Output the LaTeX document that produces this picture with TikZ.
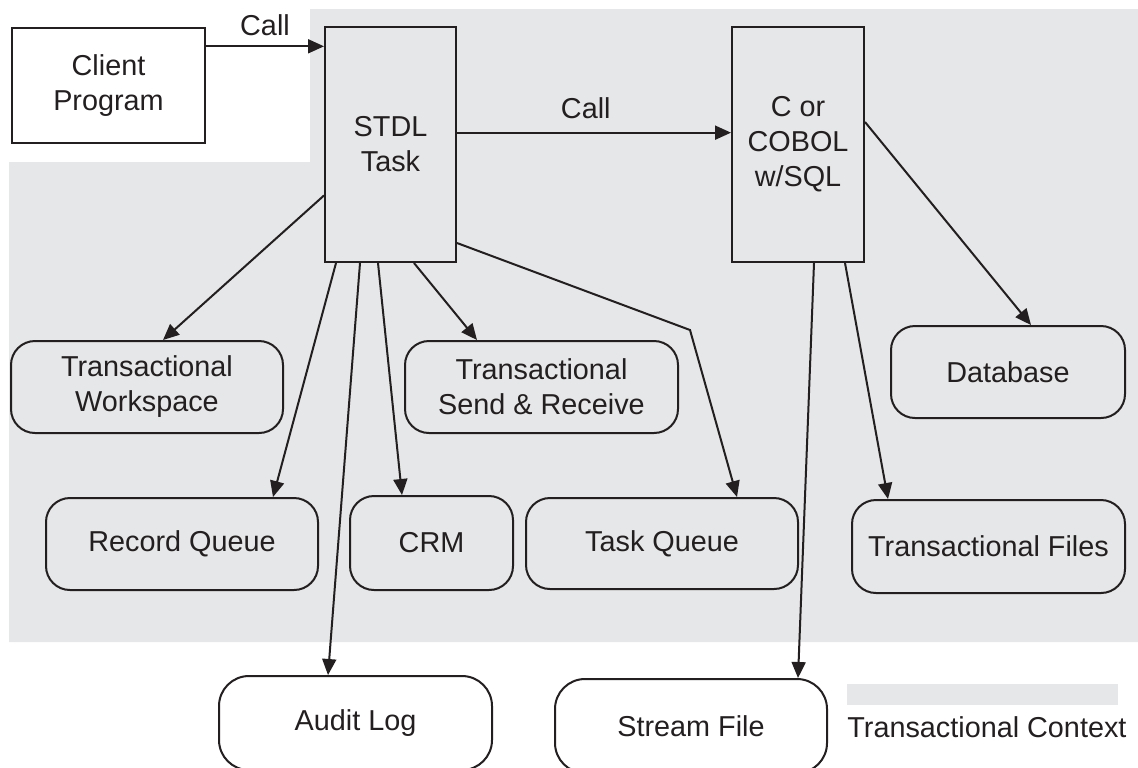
\documentclass[tikz,border=0pt]{standalone}
\usepackage{fontspec}
\setmainfont{Liberation Sans}
\usetikzlibrary{arrows.meta,calc}
\definecolor{ctxgray}{RGB}{230,231,232}
\definecolor{ink}{RGB}{35,31,32}

\begin{document}
\begin{tikzpicture}[x=0.5pt, y=-0.5pt,
        font=\fontsize{14.4}{17.5}\selectfont, text=ink,
        prog/.style={draw=ink, line width=1pt, align=center, inner sep=0pt},
        store/.style={draw=ink, line width=1pt, rounded corners=12pt, align=center, inner sep=0pt},
        arr/.style={draw=ink, line width=1pt, -{Triangle[length=8pt,width=7pt]}}]
        \clip (0,0) rectangle (1138,767);

        % transactional context
        \fill[ctxgray] (9,162) -- (310,162) -- (310,9) -- (1138,9) -- (1138,642) -- (9,642) -- cycle;

        \node[prog, minimum width=96.5pt, minimum height=57.5pt] (client) at (108.5,85.5) {Client\\Program};
        \node[prog, minimum width=65.5pt, minimum height=117.5pt] (stdl) at (390.5,144.5) {STDL\\Task};
        \node[prog, minimum width=66pt, minimum height=117.5pt] (cobol) at (798,144.5) {C or\\COBOL\\w/SQL};

        \node[store, minimum width=136pt, minimum height=46pt] (work) at (147,387) {Transactional\\Workspace};
        \node[store, minimum width=136.5pt, minimum height=46pt] (sendrecv) at (541.5,387) {Transactional\\Send \& Receive};
        \node[store, minimum width=117pt, minimum height=46pt] (db) at (1008,372) {Database};
        \node[store, minimum width=136pt, minimum height=46pt] (recq) at (182,544) {Record Queue};
        \node[store, minimum width=81.5pt, minimum height=47pt] (crm) at (431.5,543) {CRM};
        \node[store, minimum width=136pt, minimum height=45.5pt] (taskq) at (662,543.5) {Task Queue};
        \node[store, minimum width=136.5pt, minimum height=46.5pt] (tfiles) at (988.5,546.5) {Transactional Files};
        \node[store, rounded corners=15pt, minimum width=136.5pt, minimum height=47pt] (audit) at (355.5,723) {Audit Log};
        \node[store, rounded corners=15pt, minimum width=136pt, minimum height=47pt] (stream) at (691,726) {Stream File};

        % legend
        \node[fill=ctxgray, inner sep=0pt, minimum width=135.5pt, minimum height=10.5pt] (legbar) at (982.5,694.5) {};
        \node[anchor=base west, inner sep=0pt] (legtext) at (847,737) {Transactional Context};

        % calls
        \draw[arr] ($(client.north east)!0.165!(client.south east)$) coordinate (c1)
            -- node[above=1.5pt] {Call} (c1 -| stdl.west);
        \draw[arr] ($(stdl.north east)!0.45!(stdl.south east)$) coordinate (c2)
            -- node[above=3pt, pos=0.47] {Call} (c2 -| cobol.west);

        % STDL task resources
        \draw[arr] ($(stdl.north west)!0.715!(stdl.south west)$) -- ($(work.north)+(16,0)$);
        \draw[arr] ($(stdl.south west)+(12,0)$) -- ($(recq.north)+(91,0)$);
        \draw[arr] ($(stdl.south west)+(36,0)$) -- ($(audit.north)+(-27.5,0)$);
        \draw[arr] ($(stdl.south west)+(54,0)$) -- ($(crm.north)+(-29.5,0)$);
        \draw[arr] ($(stdl.south west)+(90,0)$) -- ($(sendrecv.north)+(-64.5,0)$);
        \coordinate (bend) at (690,330);
        \draw[arr] ($(stdl.south east)+(0,-20)$) -- (bend) -- ($(taskq.north)+(75,0)$);

        % C / COBOL resources
        \draw[arr] ($(cobol.north east)+(0,96)$) -- ($(db.north)+(23,0)$);
        \draw[arr] ($(cobol.south west)+(83,0)$) -- ($(stream.north)+(107,0)$);
        \draw[arr] ($(cobol.south west)+(114,0)$) -- ($(tfiles.north)+(-100.5,0)$);
    \end{tikzpicture}
\end{document}
